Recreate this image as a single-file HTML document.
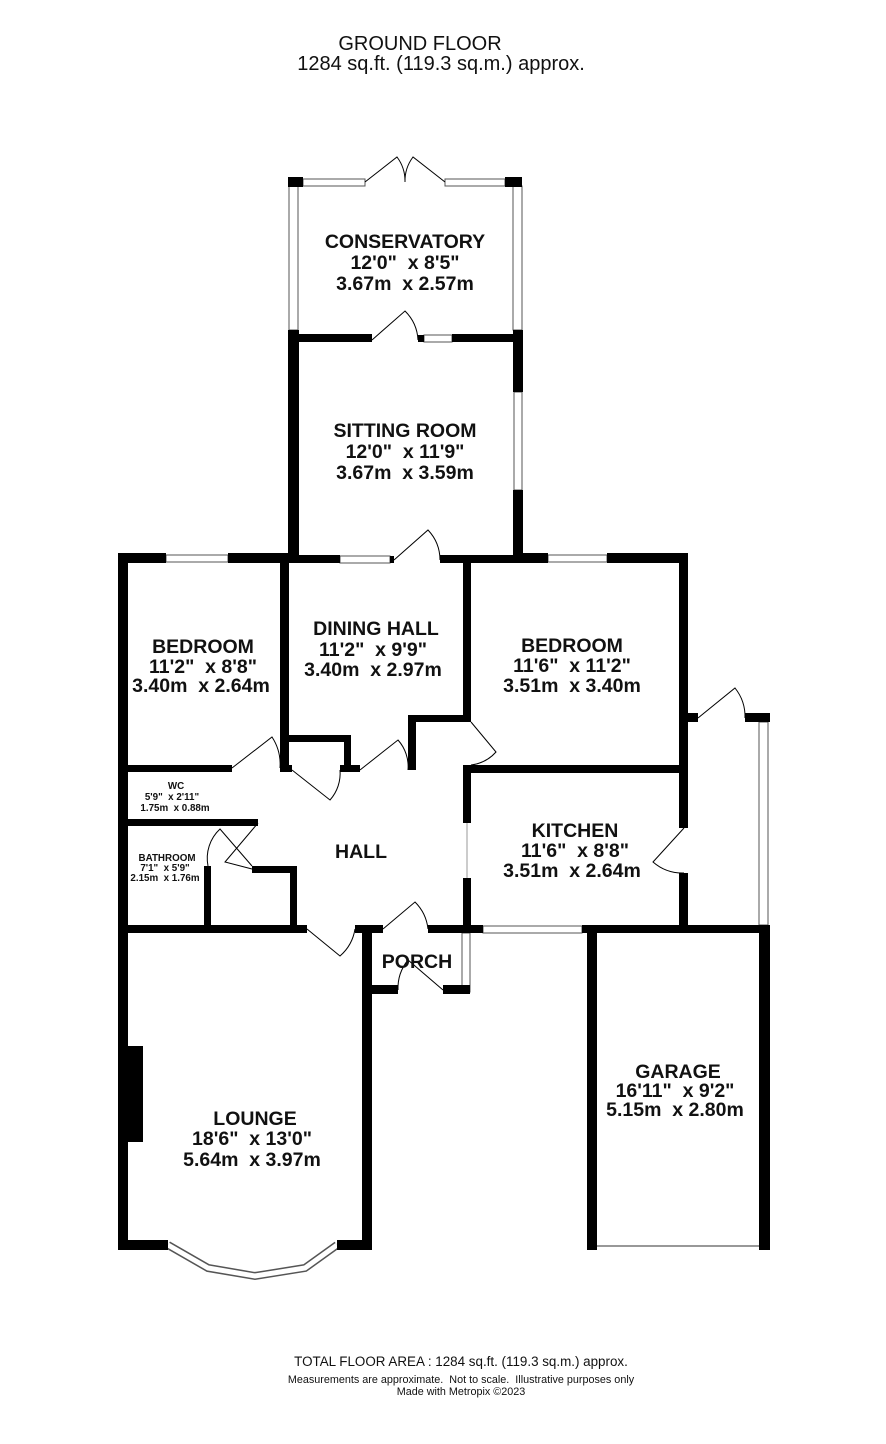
<!DOCTYPE html>
<html><head><meta charset="utf-8"><style>
html,body{margin:0;padding:0;background:#fff;}
svg{display:block}
text{font-family:"Liberation Sans",sans-serif;fill:#111;text-anchor:middle;white-space:pre}
.b{font-weight:bold;font-size:19.5px}
.s{font-weight:bold;font-size:9.8px}
</style></head><body>
<svg width="886" height="1444" viewBox="0 0 886 1444" xmlns="http://www.w3.org/2000/svg">
<text x="420" y="50" style="font-size:20px">GROUND FLOOR</text>
<text x="441" y="70" style="font-size:20px">1284 sq.ft. (119.3 sq.m.) approx.</text>

<g fill="#fff" stroke="#555" stroke-width="1">
<rect x="303" y="179" width="62" height="7"/><rect x="445" y="179" width="60" height="7"/>
<rect x="289" y="186" width="9" height="144"/><rect x="513" y="186" width="9" height="144"/>
<rect x="424" y="335" width="28" height="7"/>
<rect x="514" y="392" width="8" height="98"/>
<rect x="166" y="555" width="62" height="7"/>
<rect x="340" y="556" width="50" height="7"/>
<rect x="548" y="555" width="59" height="7"/>
<rect x="759" y="722" width="9" height="203"/>
<rect x="119" y="768" width="8" height="52"/>
<rect x="119" y="843" width="8" height="62"/>
<rect x="483" y="926" width="99" height="7"/>
<rect x="462" y="933" width="8" height="59"/>
<rect x="119" y="952" width="8" height="61"/>
<rect x="363" y="1048" width="8" height="102"/>
<polyline points="168,1245 208,1268 255,1276 305,1268 337,1245" fill="none" stroke="#555" stroke-width="8"/>
<polyline points="168,1245 208,1268 255,1276 305,1268 337,1245" fill="none" stroke="#fff" stroke-width="5"/>
</g>
<line x1="467" y1="823" x2="467" y2="878" stroke="#999" stroke-width="1"/>
<line x1="597" y1="1246" x2="759" y2="1246" stroke="#777" stroke-width="1.5"/>

<g fill="#000">
<rect x="288" y="177" width="15" height="10"/><rect x="505" y="177" width="17" height="10"/>
<rect x="288" y="330" width="11" height="230"/>
<rect x="299" y="334" width="73" height="8"/><rect x="418" y="335" width="6" height="7"/><rect x="452" y="334" width="71" height="8"/>
<rect x="513" y="330" width="10" height="62"/><rect x="513" y="490" width="10" height="70"/>
<rect x="118" y="553" width="10" height="697"/>
<rect x="118" y="553" width="48" height="10"/><rect x="228" y="553" width="62" height="10"/>
<rect x="290" y="555" width="50" height="8"/><rect x="390" y="556" width="4" height="7"/><rect x="440" y="555" width="80" height="8"/>
<rect x="513" y="553" width="35" height="10"/><rect x="607" y="553" width="81" height="10"/>
<rect x="679" y="553" width="9" height="169"/><rect x="679" y="713" width="19" height="9"/><rect x="745" y="713" width="25" height="9"/>
<rect x="280" y="560" width="9" height="212"/><rect x="280" y="765" width="12" height="7"/>
<rect x="463" y="560" width="8" height="162"/><rect x="408" y="715" width="63" height="7"/><rect x="408" y="715" width="8" height="55"/>
<rect x="288" y="735" width="63" height="7"/><rect x="344" y="735" width="7" height="35"/><rect x="340" y="765" width="20" height="7"/>
<rect x="128" y="765" width="104" height="7"/>
<rect x="118" y="819" width="140" height="7"/>
<rect x="204" y="866" width="7" height="62"/>
<rect x="252" y="866" width="45" height="7"/><rect x="290" y="866" width="7" height="62"/>
<rect x="463" y="765" width="8" height="58"/><rect x="463" y="878" width="8" height="50"/>
<rect x="463" y="765" width="225" height="8"/>
<rect x="679" y="722" width="9" height="106"/><rect x="679" y="873" width="9" height="55"/>
<rect x="118" y="925" width="189" height="8"/><rect x="355" y="925" width="28" height="8"/><rect x="428" y="925" width="35" height="8"/>
<rect x="463" y="925" width="20" height="8"/>
<rect x="582" y="925" width="188" height="8"/>
<rect x="362" y="933" width="10" height="317"/>
<rect x="362" y="985" width="36" height="9"/><rect x="443" y="985" width="27" height="9"/>
<rect x="128" y="1046" width="15" height="96"/>
<rect x="118" y="1240" width="50" height="10"/><rect x="337" y="1240" width="35" height="10"/>
<rect x="587" y="925" width="10" height="325"/>
<rect x="759" y="925" width="11" height="325"/>
</g>

<g fill="none" stroke="#000" stroke-width="1">
<path d="M365 182 L397 157 A40 40 0 0 1 405 182"/>
<path d="M445 182 L413 157 A40 40 0 0 0 405 182"/>
<path d="M372 340 L405 311 A44 44 0 0 1 418 340"/>
<path d="M394 560 L428 530 A44 44 0 0 1 440 560"/>
<path d="M698 718 L735 688 A46 46 0 0 1 745 718"/>
<path d="M232 768 L272 737 A50 50 0 0 1 280 768"/>
<path d="M292 770 L330 800 A40 40 0 0 0 340 770"/>
<path d="M360 770 L398 740 A40 40 0 0 1 408 770"/>
<path d="M471 722 L496 752 A40 40 0 0 1 471 765"/>
<path d="M258 823 L225 862 L252 869"/>
<path d="M208 866 A40 40 0 0 1 220 829 L252 866"/>
<path d="M684 828 L653 862 A45 45 0 0 0 684 873"/>
<path d="M307 929 L340 956 A45 45 0 0 0 355 929"/>
<path d="M383 929 L415 902 A45 45 0 0 1 428 929"/>
<path d="M443 990 L408 960 A45 45 0 0 0 398 990"/>
</g>

<text class="b" x="405" y="248">CONSERVATORY</text>
<text class="b" x="405" y="269">12'0"  x 8'5"</text>
<text class="b" x="405" y="290">3.67m  x 2.57m</text>
<text class="b" x="405" y="437">SITTING ROOM</text>
<text class="b" x="405" y="458">12'0"  x 11'9"</text>
<text class="b" x="405" y="479">3.67m  x 3.59m</text>
<text class="b" x="203" y="653">BEDROOM</text>
<text class="b" x="203" y="673">11'2"  x 8'8"</text>
<text class="b" x="201" y="692">3.40m  x 2.64m</text>
<text class="b" x="376" y="635">DINING HALL</text>
<text class="b" x="373" y="656">11'2"  x 9'9"</text>
<text class="b" x="373" y="676">3.40m  x 2.97m</text>
<text class="b" x="572" y="652">BEDROOM</text>
<text class="b" x="572" y="672">11'6"  x 11'2"</text>
<text class="b" x="572" y="692">3.51m  x 3.40m</text>
<text class="b" x="575" y="837">KITCHEN</text>
<text class="b" x="575" y="857">11'6"  x 8'8"</text>
<text class="b" x="572" y="877">3.51m  x 2.64m</text>
<text class="b" x="361" y="858">HALL</text>
<text class="s" x="176" y="789">WC</text>
<text class="s" x="172" y="800">5'9"  x 2'11"</text>
<text class="s" x="175" y="811">1.75m  x 0.88m</text>
<text class="s" x="167" y="861">BATHROOM</text>
<text class="s" x="165" y="871">7'1"  x 5'9"</text>
<text class="s" x="165" y="881">2.15m  x 1.76m</text>
<text class="b" x="417" y="968">PORCH</text>
<text class="b" x="255" y="1125">LOUNGE</text>
<text class="b" x="252" y="1145">18'6"  x 13'0"</text>
<text class="b" x="252" y="1166">5.64m  x 3.97m</text>
<text class="b" x="678" y="1078">GARAGE</text>
<text class="b" x="675" y="1097">16'11"  x 9'2"</text>
<text class="b" x="675" y="1116">5.15m  x 2.80m</text>
<text x="461" y="1366" style="font-size:13.4px">TOTAL FLOOR AREA : 1284 sq.ft. (119.3 sq.m.) approx.</text>
<text x="461" y="1383" style="font-size:10.8px">Measurements are approximate.  Not to scale.  Illustrative purposes only</text>
<text x="461" y="1395" style="font-size:10.8px">Made with Metropix ©2023</text>
</svg>
</body></html>
